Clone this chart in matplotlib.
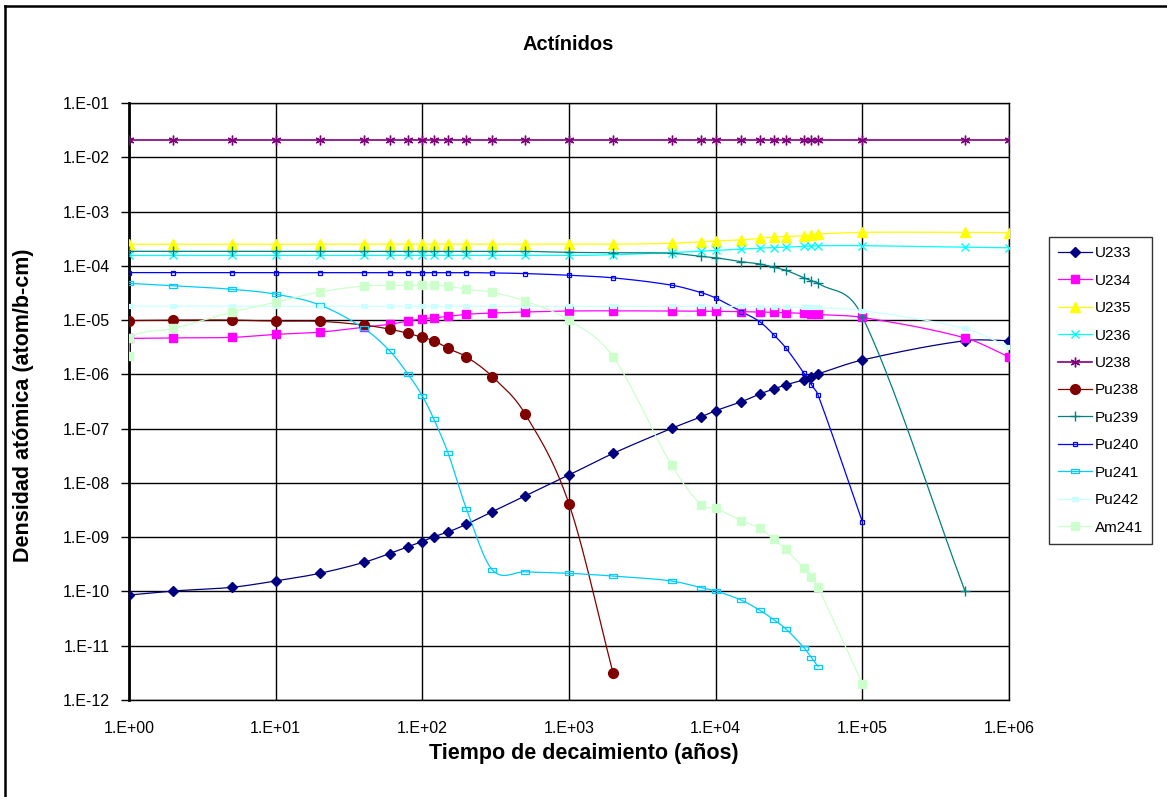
import numpy as np
import matplotlib
matplotlib.use("Agg")
import matplotlib.pyplot as plt
from matplotlib.lines import Line2D

plt.rcParams['font.family'] = ['Liberation Sans', 'DejaVu Sans']

# ---------------- data ----------------
t = [1, 2, 5, 10, 20, 40, 60, 80, 100, 120, 150, 200, 300, 500, 1000, 2000,
     5000, 8000, 1e4, 1.5e4, 2e4, 2.5e4, 3e4, 4e4, 4.5e4, 5e4, 1e5, 5e5, 1e6]

U233 = [8.6e-11, 1.02e-10, 1.19e-10, 1.56e-10, 2.16e-10, 3.44e-10, 5.0e-10, 6.7e-10,
        8.3e-10, 1.02e-9, 1.25e-9, 1.73e-9, 2.95e-9, 5.7e-9, 1.4e-8, 3.5e-8, 1.01e-7,
        1.66e-7, 2.14e-7, 3.13e-7, 4.35e-7, 5.4e-7, 6.4e-7, 7.9e-7, 9.1e-7, 1.02e-6,
        1.84e-6, 4.17e-6, 4.17e-6]
U234 = [4.6e-6, 4.7e-6, 4.8e-6, 5.45e-6, 6.0e-6, 7.4e-6, 8.4e-6, 9.6e-6, 1.06e-5,
        1.1e-5, 1.17e-5, 1.28e-5, 1.35e-5, 1.41e-5, 1.47e-5, 1.48e-5, 1.47e-5, 1.46e-5,
        1.45e-5, 1.43e-5, 1.41e-5, 1.39e-5, 1.37e-5, 1.33e-5, 1.3e-5, 1.27e-5, 1.12e-5,
        4.7e-6, 2.1e-6]
U235 = [2.5e-4] * 16 + [2.6e-4, 2.78e-4, 2.86e-4, 3.0e-4, 3.2e-4, 3.4e-4, 3.45e-4,
                        3.6e-4, 3.75e-4, 3.86e-4, 4.14e-4, 4.14e-4, 4.1e-4]
U236 = [1.55e-4] * 15 + [1.6e-4, 1.75e-4, 1.87e-4, 1.93e-4, 2.03e-4, 2.12e-4, 2.17e-4,
                         2.2e-4, 2.3e-4, 2.32e-4, 2.35e-4, 2.35e-4, 2.2e-4, 2.15e-4]
U238 = [2.1e-2] * 29
Pu238 = [9.8e-6, 1.0e-5, 1.0e-5, 9.6e-6, 9.5e-6, 8.1e-6, 6.8e-6, 5.7e-6, 4.8e-6,
         4.17e-6, 3.0e-6, 2.1e-6, 9.1e-7, 1.9e-7, 4.1e-9, 3.1e-12]
Pu239 = [1.85e-4] * 14 + [1.77e-4, 1.74e-4, 1.7e-4, 1.49e-4, 1.41e-4, 1.19e-4, 1.08e-4,
                          9.4e-5, 8.3e-5, 6.0e-5, 5.3e-5, 4.8e-5, 1.16e-5, 1.03e-10]
Pu240 = [7.5e-5] * 12 + [7.4e-5, 7.2e-5, 6.7e-5, 6.0e-5, 4.4e-5, 3.2e-5, 2.55e-5,
                         1.43e-5, 9.3e-6, 5.3e-6, 3.1e-6, 1.05e-6, 6.4e-7, 4.1e-7, 1.93e-9]
Pu241 = [4.76e-5, 4.3e-5, 3.7e-5, 3.0e-5, 1.9e-5, 7.0e-6, 2.7e-6, 1.0e-6, 4.0e-7,
         1.48e-7, 3.5e-8, 3.3e-9, 2.5e-10, 2.3e-10, 2.16e-10, 1.92e-10, 1.56e-10,
         1.17e-10, 1.02e-10, 6.9e-11, 4.5e-11, 3.0e-11, 2.06e-11, 9.2e-12, 6.0e-12, 4.1e-12]
Pu242 = [1.8e-5] * 19 + [1.78e-5, 1.77e-5, 1.76e-5, 1.75e-5, 1.73e-5, 1.72e-5, 1.71e-5,
                         1.5e-5, 7.0e-6, 3.2e-6]
t_am = [1] + t[:27]
Am241 = [2.2e-6, 4.7e-6, 7.0e-6, 1.39e-5, 2.13e-5, 3.3e-5, 4.25e-5, 4.35e-5, 4.4e-5,
         4.4e-5, 4.4e-5, 4.2e-5, 3.7e-5, 3.25e-5, 2.25e-5, 1.0e-5, 2.1e-6, 2.14e-8,
         3.9e-9, 3.4e-9, 2.0e-9, 1.46e-9, 9.1e-10, 6.0e-10, 2.67e-10, 1.87e-10,
         1.19e-10, 2.0e-12]

names = ['U233', 'U234', 'U235', 'U236', 'U238', 'Pu238', 'Pu239', 'Pu240',
         'Pu241', 'Pu242', 'Am241']
series_y = [U233, U234, U235, U236, U238, Pu238, Pu239, Pu240, Pu241, Pu242, Am241]
series_x = [t, t, t, t, t, t[:len(Pu238)], t[:len(Pu239)], t[:len(Pu240)],
            t[:len(Pu241)], t, t_am]

xticks = [1, 10, 100, 1e3, 1e4, 1e5, 1e6]
xlabels = ['1.E+00', '1.E+01', '1.E+02', '1.E+03', '1.E+04', '1.E+05', '1.E+06']
yticks = [10.0 ** -k for k in range(12, 0, -1)]
ylabels = ['1.E-%02d' % k for k in range(12, 0, -1)]

# ---------------- styles ----------------
bar = [(-1, -0.45), (1, -0.45), (1, 0.45), (-1, 0.45), (-1, -0.45)]
styles = [
    dict(color='#000080', marker='D', ms=5.5, mfc='#000080', mec='#000080'),
    dict(color='#FF00FF', marker='s', ms=6, mfc='#FF00FF', mec='#FF00FF'),
    dict(color='#FFFF00', marker='^', ms=6.5, mfc='#FFFF00', mec='#FFFF00'),
    dict(color='#00FFFF', marker='x', ms=6, mew=1.0, mfc='#00FFFF', mec='#00FFFF'),
    dict(color='#800080', marker=(6, 2, 0), ms=7, mew=1.0, mec='#800080'),
    dict(color='#800000', marker='o', ms=7, mfc='#800000', mec='#800000'),
    dict(color='#008080', marker='+', ms=7.5, mew=1.0, mec='#008080'),
    dict(color='#0000FF', marker='s', ms=3, mfc='none', mec='#0000FF', mew=0.9),
    dict(color='#00CCFF', marker=bar, ms=6, mfc='none', mec='#00CCFF', mew=0.9),
    dict(color='#CCFFFF', marker=bar, ms=5, mfc='#CCFFFF', mec='#CCFFFF', mew=0.9),
    dict(color='#CCFFCC', marker='s', ms=6, mfc='#CCFFCC', mec='#CCFFCC'),
]


def smooth(x, y, n=24):
    """Smoothed line (cubic Hermite in log-log space, slopes from neighbours)."""
    lx = np.log10(np.asarray(x, float))
    ly = np.log10(np.asarray(y, float))
    m = len(lx)
    if m < 2:
        return x, y
    slopes = np.zeros(m)
    for i in range(m):
        a = max(i - 1, 0)
        b = min(i + 1, m - 1)
        # skip duplicate-x neighbours
        while a > 0 and lx[a] == lx[i]:
            a -= 1
        while b < m - 1 and lx[b] == lx[i]:
            b += 1
        dx = lx[b] - lx[a]
        slopes[i] = (ly[b] - ly[a]) / dx if dx > 0 else 0.0
    ox, oy = [lx[0]], [ly[0]]
    u = np.linspace(0, 1, n)[1:]
    for i in range(m - 1):
        dx = lx[i + 1] - lx[i]
        if dx <= 0:
            ox.append(lx[i + 1]); oy.append(ly[i + 1])
            continue
        y0, y1 = ly[i], ly[i + 1]
        c1 = y0 + slopes[i] * dx / 3
        c2 = y1 - slopes[i + 1] * dx / 3
        yy = (1 - u) ** 3 * y0 + 3 * (1 - u) ** 2 * u * c1 + \
            3 * (1 - u) * u ** 2 * c2 + u ** 3 * y1
        ox.extend(lx[i] + u * dx)
        oy.extend(yy)
    return 10 ** np.array(ox), 10 ** np.array(oy)


# ---------------- figure ----------------
W, H = 1167, 797
fig = plt.figure(figsize=(W / 100, H / 100), dpi=100)
fig.patch.set_facecolor('white')

# chart frame (left and top visible)
fig.add_artist(Line2D([5 / W, 5 / W], [0, 1 - 6 / H], transform=fig.transFigure,
                      color='black', lw=1.8))
fig.add_artist(Line2D([5 / W, 1], [1 - 6 / H, 1 - 6 / H], transform=fig.transFigure,
                      color='black', lw=1.8))

L, R, T, B = 129, 1009, 103, 700
ax = fig.add_axes([L / W, 1 - B / H, (R - L) / W, (B - T) / H])
ax.set_xscale('log')
ax.set_yscale('log')
ax.set_xlim(1, 1e6)
ax.set_ylim(1e-12, 1e-1)

handles = []
for nm, xs, ys, st in zip(names, series_x, series_y, styles):
    sx, sy = smooth(xs, ys)
    lw = 1.2 if nm == 'U238' else 0.9
    ax.plot(sx, sy, color=st['color'], lw=lw, zorder=3, solid_capstyle='round')
    mk = {k: v for k, v in st.items() if k != 'color'}
    ax.plot(xs, ys, ls='none', zorder=4, **mk)
    handles.append(Line2D([], [], color=st['color'], lw=lw, **mk))

ax.set_xticks(xticks)
ax.set_xticklabels(xlabels)
ax.set_yticks(yticks)
ax.set_yticklabels(ylabels)
ax.xaxis.set_minor_locator(matplotlib.ticker.NullLocator())
ax.yaxis.set_minor_locator(matplotlib.ticker.NullLocator())
ax.tick_params(axis='y', direction='out', length=6, width=1, labelsize=11.5, pad=8,
               colors='black')
ax.tick_params(axis='x', direction='out', length=0, labelsize=11.5, pad=15,
               colors='black')
ax.grid(True, which='major', color='black', lw=1.0)
ax.set_axisbelow(True)
for side in ['top', 'right', 'bottom']:
    ax.spines[side].set_linewidth(1.0)
    ax.spines[side].set_color('black')
ax.spines['left'].set_linewidth(2.0)

fig.text(568 / W, 1 - 44 / H, 'Actínidos', ha='center', va='center',
         fontsize=14.5, fontweight='bold')
fig.text(584 / W, 1 - 753 / H, 'Tiempo de decaimiento (años)', ha='center',
         va='center', fontsize=15.5, fontweight='bold')
fig.text(24 / W, 1 - 405 / H, 'Densidad atómica (atom/b-cm)', ha='center',
         va='center', rotation=90, fontsize=15.5, fontweight='bold')

leg = fig.legend(handles, names, loc='upper left',
                 bbox_to_anchor=(1049 / W, 1 - 237 / H), frameon=True,
                 fontsize=11, handlelength=2.2, handletextpad=0.2,
                 labelspacing=0.88, borderpad=0.6, fancybox=False,
                 edgecolor='black', borderaxespad=0)
leg.get_frame().set_linewidth(1.0)

fig.savefig('out.png', dpi=100)
